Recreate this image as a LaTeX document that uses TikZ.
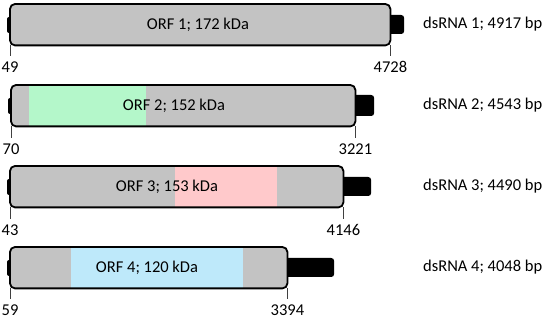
\documentclass[tikz,border=0pt]{standalone}
\usepackage{fontspec}
\setmainfont{Carlito}
\usetikzlibrary{positioning}
\definecolor{SegGray}{HTML}{C3C3C3}
\definecolor{OrfGreen}{HTML}{B4F7CA}
\definecolor{OrfPink}{HTML}{FFC9CB}
\definecolor{OrfBlue}{HTML}{BEE9FA}

\begin{document}
\begin{tikzpicture}[
  x=1pt, y=-1pt,
  every node/.style={font=\fontsize{16.5}{19}\selectfont, inner sep=0pt},
  seg/.style={fill=SegGray, rounded corners=5pt, minimum height=41pt, anchor=north west},
  frame/.style={draw=black, line width=1.8pt, rounded corners=5pt},
  tail/.style={fill=black, rounded corners=3pt, anchor=west},
  endcap/.style={fill=black, rounded corners=2pt, minimum width=5pt, minimum height=16pt},
  orf/.style={minimum height=41pt, anchor=west},
  tick/.style={line width=0.8pt, black!75},
  rnaname/.style={anchor=west}
]
  \useasboundingbox (0,0) rectangle (550,320);

  % dsRNA 1
  \node[tail, minimum width=19pt, minimum height=19pt] (t1) at (385,24.5) {};
  \node[endcap] (c1) at (9.5,25) {};
  \node[seg, minimum width=380pt] (b1) at (10,4) {};
  \draw[frame] (b1.north west) rectangle (b1.south east);
  \node (o1) at (198,24.5) {ORF 1; 172 kDa};
  \node[below=16pt of b1.south west] (s1) {49};
  \node[below=16pt of b1.south east] (e1) {4728};
  \draw[tick] (b1.south west) -- ([yshift=5pt]s1.north);
  \draw[tick] (b1.south east) -- ([yshift=5pt]e1.north);
  \node[rnaname] (n1) at (423,24.5) {dsRNA 1; 4917 bp};

  % dsRNA 2
  \node[tail, minimum width=24pt, minimum height=21pt] (t2) at (350,105.5) {};
  \node[endcap] (c2) at (10.5,106) {};
  \node[seg, minimum width=344pt] (b2) at (11,85) {};
  \node[orf, fill=OrfGreen, minimum width=117pt] (g2) at (29,105.5) {};
  \draw[frame] (b2.north west) rectangle (b2.south east);
  \node (o2) at (174,105.5) {ORF 2; 152 kDa};
  \node[below=17pt of b2.south west] (s2) {70};
  \node[below=17pt of b2.south east] (e2) {3221};
  \draw[tick] (b2.south west) -- ([yshift=5pt]s2.north);
  \draw[tick] (b2.south east) -- ([yshift=5pt]e2.north);
  \node[rnaname] (n2) at (423,105.5) {dsRNA 2; 4543 bp};

  % dsRNA 3
  \node[tail, minimum width=33pt, minimum height=19pt] (t3) at (338,186.5) {};
  \node[endcap] (c3) at (9.5,187) {};
  \node[seg, minimum width=333pt] (b3) at (10,166) {};
  \node[orf, fill=OrfPink, minimum width=102pt] (p3) at (175,186.5) {};
  \draw[frame] (b3.north west) rectangle (b3.south east);
  \node (o3) at (167,186.5) {ORF 3; 153 kDa};
  \node[below=17pt of b3.south west] (s3) {43};
  \node[below=17pt of b3.south east] (e3) {4146};
  \draw[tick] (b3.south west) -- ([yshift=5pt]s3.north);
  \draw[tick] (b3.south east) -- ([yshift=5pt]e3.north);
  \node[rnaname] (n3) at (423,186.5) {dsRNA 3; 4490 bp};

  % dsRNA 4
  \node[tail, minimum width=52pt, minimum height=19pt] (t4) at (282,267.5) {};
  \node[endcap] (c4) at (9.5,268) {};
  \node[seg, minimum width=277pt] (b4) at (10,247) {};
  \node[orf, fill=OrfBlue, minimum width=172pt] (l4) at (71,267.5) {};
  \draw[frame] (b4.north west) rectangle (b4.south east);
  \node (o4) at (147,267.5) {ORF 4; 120 kDa};
  \node[below=16pt of b4.south west] (s4) {59};
  \node[below=16pt of b4.south east] (e4) {3394};
  \draw[tick] (b4.south west) -- ([yshift=5pt]s4.north);
  \draw[tick] (b4.south east) -- ([yshift=5pt]e4.north);
  \node[rnaname] (n4) at (423,267.5) {dsRNA 4; 4048 bp};
\end{tikzpicture}
\end{document}
